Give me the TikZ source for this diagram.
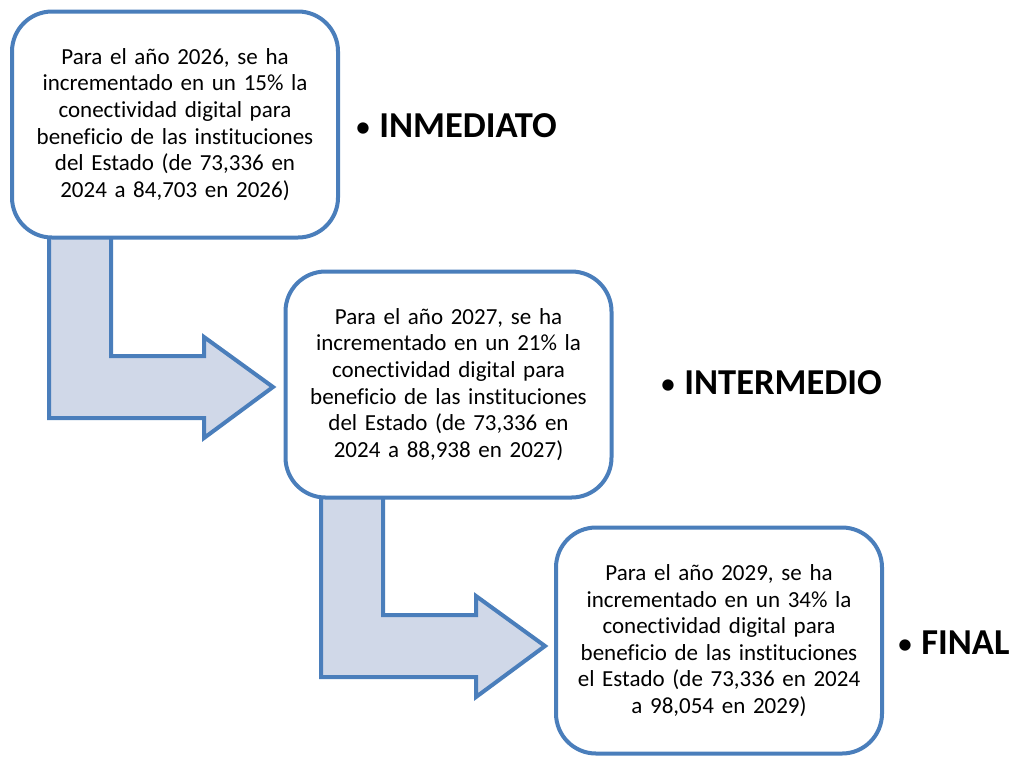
\documentclass[tikz,border=0pt]{standalone}
\usepackage{fontspec}
\setmainfont{Carlito}[Ligatures=NoCommon]
\usetikzlibrary{calc}
\definecolor{goalblue}{RGB}{74,126,187}
\definecolor{arrowfill}{RGB}{208,216,232}
\newcommand{\stagedot}{{\fontsize{32}{32}\selectfont\mdseries•}\ }

\tikzset{
  goal/.style={draw=goalblue, line width=4pt, rounded corners=40pt, fill=white,
    minimum width=326pt, minimum height=226pt, text width=316pt, align=center,
    inner sep=0pt, font=\fontsize{23}{26.6}\selectfont},
  stage/.style={anchor=west, inner sep=0pt, font=\fontsize{36.5}{40}\selectfont\bfseries},
  bent/.style={draw=goalblue, line width=4pt, fill=arrowfill, line join=miter}
}

\begin{document}
\begin{tikzpicture}[x=1pt, y=-1pt]
\useasboundingbox (0,0) rectangle (1014,756);

% bent arrows between the boxes
\foreach \dx/\dy in {0/0, 272/259}{
  \draw[bent, shift={(\dx,\dy)}] (49,230) -- (111,230) -- (111,356) -- (204,356) -- (204,337)
    -- (273,387) -- (204,438) -- (204,418) -- (49,418) -- cycle;
}

\node[goal] (inmediato box) at (175,124.5) {Para el año 2026, se ha\\ incrementado en un 15\% la\\ conectividad digital para\\ beneficio de las instituciones\\ del Estado (de 73,336 en\\ 2024 a 84,703 en 2026)};
\node[goal] (intermedio box) at (448.5,384.5) {Para el año 2027, se ha\\ incrementado en un 21\% la\\ conectividad digital para\\ beneficio de las instituciones\\ del Estado (de 73,336 en\\ 2024 a 88,938 en 2027)};
\node[goal] (final box) at (719,640.5) {Para el año 2029, se ha\\ incrementado en un 34\% la\\ conectividad digital para\\ beneficio de las instituciones\\ el Estado (de 73,336 en 2024\\ a 98,054 en 2029)};

\node[stage] (inmediato) at (355,126) {\stagedot INMEDIATO};
\node[stage] (intermedio) at (660,383) {\stagedot INTERMEDIO};
\node[stage] (final) at (897,643) {\stagedot FINAL};
\end{tikzpicture}
\end{document}
